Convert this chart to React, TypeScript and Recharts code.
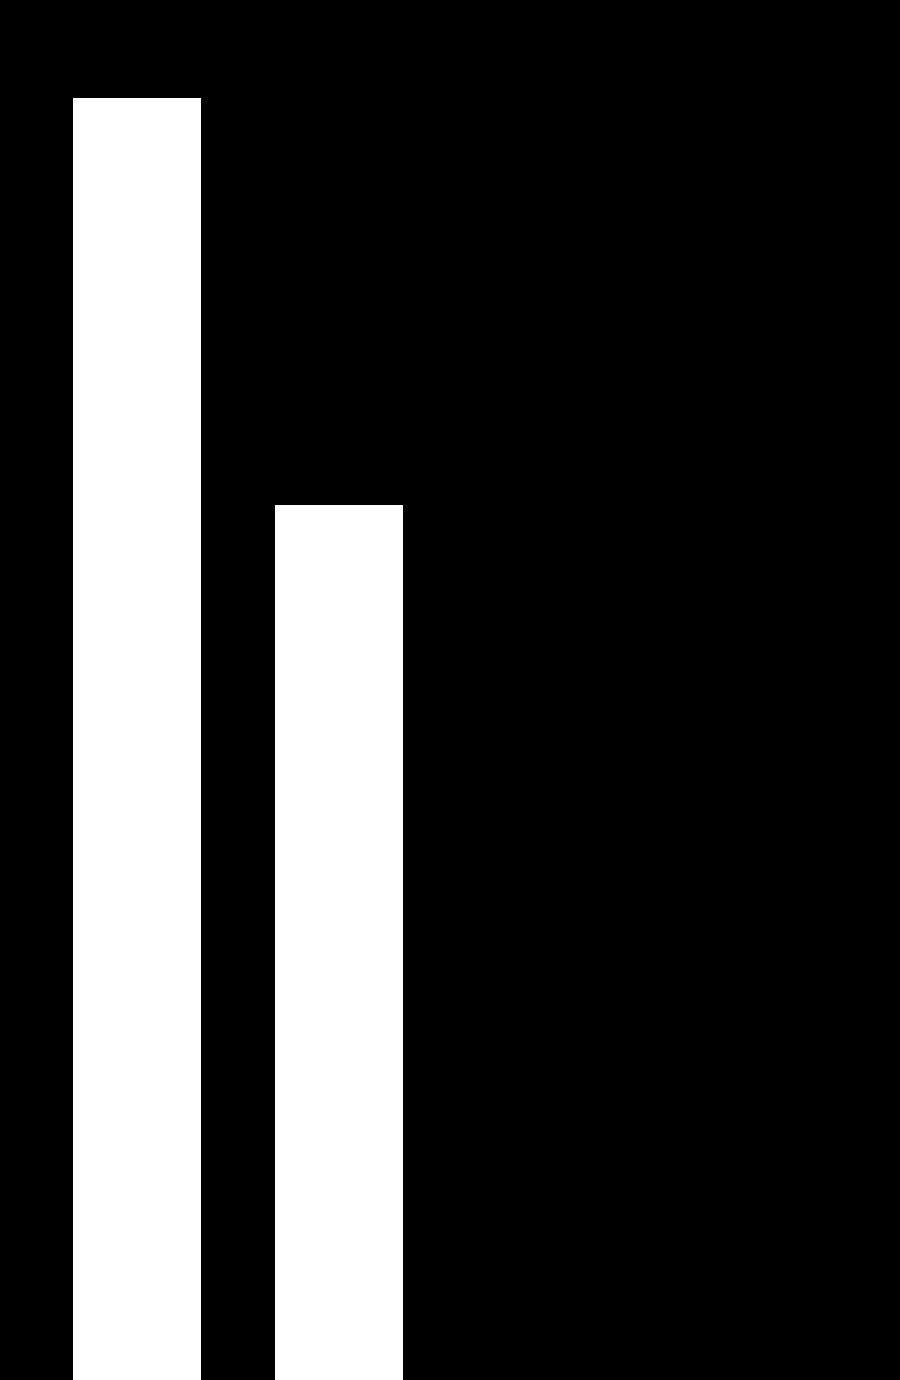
import { BarChart, Bar, XAxis, YAxis } from 'recharts';

// categories and values (y scale 0..100, top of plot = 100)
const categories = ['A', 'B'];
const values = [92.9, 63.4];

const chartData = categories.map((name, i) => ({ name, value: values[i] }));

export default function App() {
  return (
    <div
      style={{
        position: 'absolute',
        top: 0,
        left: 0,
        width: 900,
        height: 1380,
        background: '#000',
        overflow: 'hidden',
      }}
    >
      <BarChart
        width={900}
        height={1380}
        data={chartData}
        margin={{ top: 0, right: 460, left: 36, bottom: 0 }}
        barCategoryGap={0}
      >
        <XAxis dataKey="name" hide padding={{ left: 0, right: 0 }} />
        <YAxis hide domain={[0, 100]} />
        <Bar dataKey="value" fill="#ffffff" barSize={128} isAnimationActive={false} />
      </BarChart>
    </div>
  );
}
